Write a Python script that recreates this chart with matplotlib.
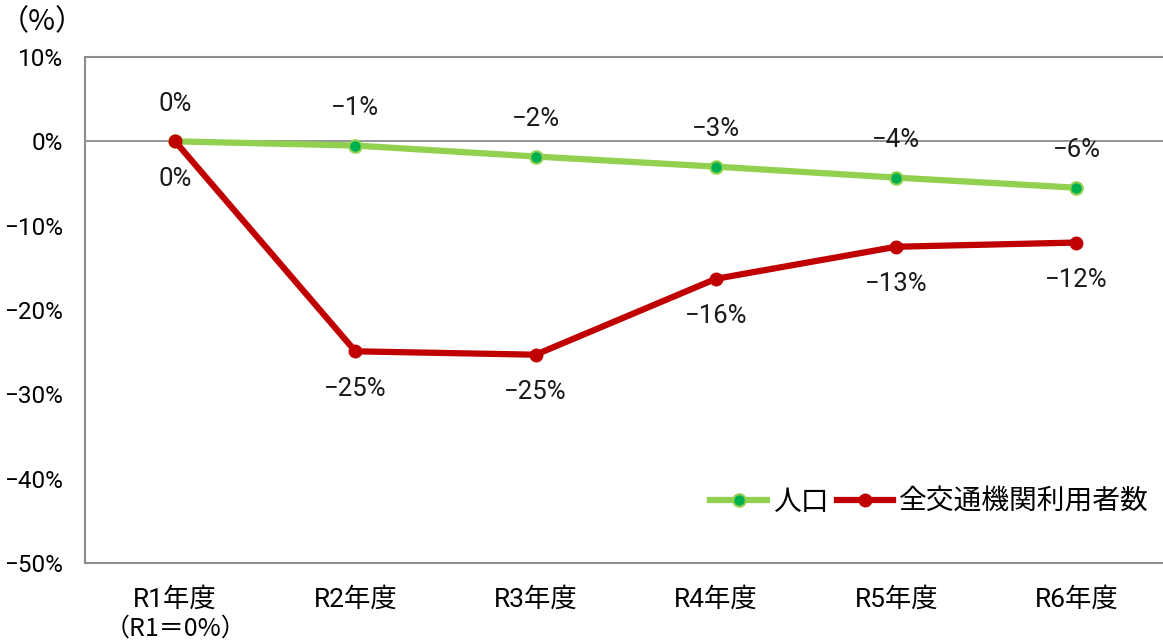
import matplotlib
matplotlib.use("Agg")
import matplotlib.pyplot as plt
from matplotlib import font_manager

# data
categories = ["R1年度", "R2年度", "R3年度", "R4年度", "R5年度", "R6年度"]
population = [0.0, -0.5, -1.8, -3.0, -4.3, -5.5]
riders = [0.0, -24.9, -25.3, -16.3, -12.5, -12.0]
population_labels = ["0%", "−1%", "−2%", "−3%", "−4%", "−6%"]
riders_labels = ["0%", "−25%", "−25%", "−16%", "−13%", "−12%"]
yticks = [10, 0, -10, -20, -30, -40, -50]

names = {f.name for f in font_manager.fontManager.ttflist}
narrow = "Roboto" if "Roboto" in names else "DejaVu Sans"
fam = [narrow, "Noto Sans CJK JP"]
plt.rcParams["font.family"] = fam

fig = plt.figure(figsize=(11.63, 6.44), dpi=100)
ax = fig.add_axes([85 / 1163, 1 - 563 / 644, 1 - 85 / 1163, (563 - 57) / 644])

x = list(range(len(categories)))
ax.axhline(0, color="#8c8c8c", lw=1.3, zorder=1)
ax.plot(x, population, color="#92D050", lw=4.5, marker="o", ms=9,
        markerfacecolor="#00B050", markeredgecolor="#92D050", markeredgewidth=1.5,
        label="人口", zorder=3)
ax.plot(x, riders, color="#C00000", lw=4.5, marker="o", ms=9,
        markerfacecolor="#C00000", markeredgecolor="#C00000",
        label="全交通機関利用者数", zorder=4)

for xi, v, t in zip(x, population, population_labels):
    ax.annotate(t, (xi, v), xytext=(0, 27), textcoords="offset points",
                ha="center", va="center", fontsize=18.5, color="#1a1a1a")
for xi, v, t in zip(x, riders, riders_labels):
    ax.annotate(t, (xi, v), xytext=(0, -27), textcoords="offset points",
                ha="center", va="center", fontsize=18.5, color="#1a1a1a")

ax.set_xlim(-0.5, 5.48)
ax.set_ylim(-50, 10)
ax.set_yticks(yticks)
ax.set_yticklabels([("−" if v < 0 else "") + f"{abs(v)}%" for v in yticks], fontsize=17.5)
ax.set_xticks(x)
ax.set_xticklabels(categories, fontsize=19)
ax.tick_params(length=0)
ax.tick_params(axis="x", pad=17)
ax.tick_params(axis="y", pad=16)
for s in ["left", "top", "bottom"]:
    ax.spines[s].set_color("#8c8c8c")
    ax.spines[s].set_linewidth(1.5)
ax.spines["right"].set_visible(False)

fig.text(42 / 1163, 1 - 22 / 644, "（%）", ha="center", va="center", fontsize=21,
         family=["Noto Sans CJK JP"])
ax.text(0, -0.13, "（R1＝0%）", transform=ax.get_xaxis_transform(), ha="center",
        va="center", fontsize=18, family=["Noto Sans CJK JP"])

ax.legend(loc="lower right", bbox_to_anchor=(1.01, 0.042), frameon=False, ncol=2,
          handlelength=2.05, handletextpad=0.2, columnspacing=0.3,
          prop={"family": ["Noto Sans CJK JP"], "size": 20})

fig.savefig("out.png", dpi=100)
